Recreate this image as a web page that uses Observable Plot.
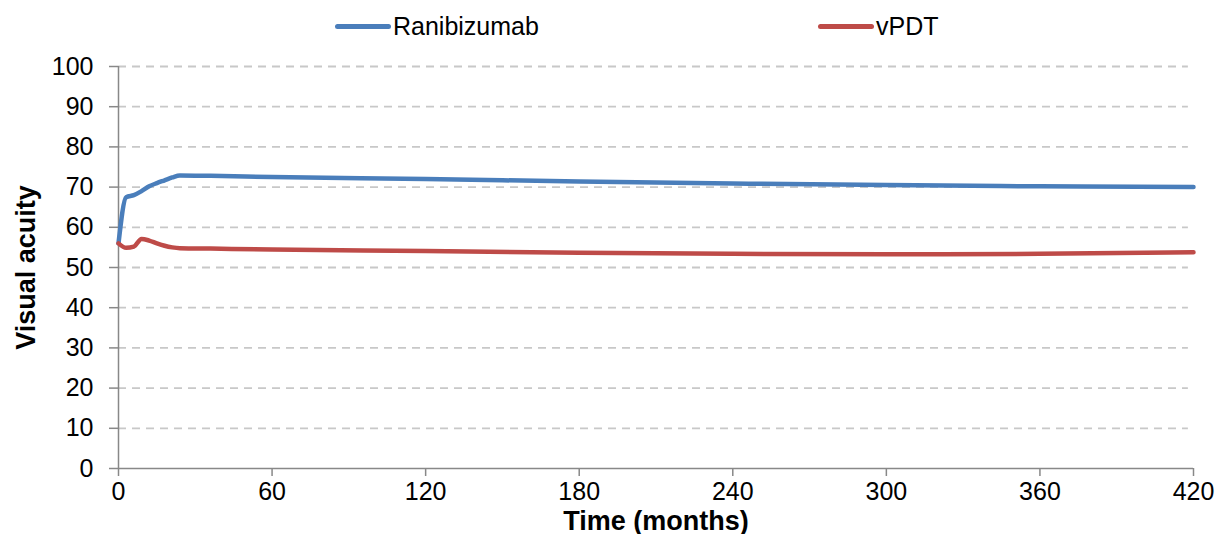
<!DOCTYPE html>
<html>
<head>
<meta charset="utf-8">
<script src="https://cdn.jsdelivr.net/npm/d3@7"></script>
<script src="https://cdn.jsdelivr.net/npm/@observablehq/plot@0.6"></script>
<style>
  body { margin: 0; background: #fff; font-family: "Liberation Sans", Arial, sans-serif; }
  #legend { position: relative; width: 1218px; height: 50px; font-size: 25px; color: #000; }
  .item { position: absolute; top: 12px; display: flex; align-items: center; }
  .sw { display: inline-block; width: 56px; height: 5px; border-radius: 3px; margin-right: 2px; }
  [aria-label="x-axis label"], [aria-label="y-axis label"] { font-weight: bold; font-size: 27px; }
</style>
</head>
<body>
<div id="legend"></div>
<div id="chart"></div>
<script>
const months = [0, 3, 6, 9, 12, 15, 18, 21, 24, 36, 60, 120, 180, 240, 300, 360, 420];
const ranibizumab = [56, 67.5, 68, 69, 70.2, 71, 71.7, 72.4, 72.9, 72.8, 72.5, 72, 71.4, 70.9, 70.5, 70.2, 70];
const vPDT = [56, 54.9, 55.2, 57.1, 56.7, 56, 55.4, 55, 54.8, 54.7, 54.5, 54.1, 53.7, 53.4, 53.3, 53.4, 53.8];
const seriesNames = ["Ranibizumab", "vPDT"];
const seriesColors = ["#4a7ebb", "#be4b48"];
const xTicks = [0, 60, 120, 180, 240, 300, 360, 420];
const yTicks = [0, 10, 20, 30, 40, 50, 60, 70, 80, 90, 100];

const data = [];
[ranibizumab, vPDT].forEach((vals, i) => {
  vals.forEach((v, j) => data.push({series: seriesNames[i], month: months[j], value: v}));
});

// legend
const legend = document.getElementById("legend");
const legendLeft = [335, 818];
seriesNames.forEach((n, i) => {
  const d = document.createElement("div");
  d.className = "item";
  d.style.left = legendLeft[i] + "px";
  d.innerHTML = `<span class="sw" style="background:${seriesColors[i]}"></span><span>${n}</span>`;
  legend.appendChild(d);
});

const chart = Plot.plot({
  width: 1218,
  height: 484,
  marginTop: 16,
  marginBottom: 66,
  marginLeft: 118,
  marginRight: 25,
  style: {fontFamily: "'Liberation Sans', Arial, sans-serif", fontSize: "25px", color: "#000", background: "#fff", overflow: "visible"},
  x: {domain: [0, 420]},
  y: {domain: [0, 100]},
  color: {domain: seriesNames, range: seriesColors},
  marks: [
    Plot.ruleY(yTicks.filter(d => d > 0), {stroke: "#c8c8c8", strokeWidth: 1.8, strokeDasharray: "8,6", x1: 0, x2: 418}),
    Plot.axisY(yTicks, {tickSize: 9, tickPadding: 16, stroke: "#888", strokeWidth: 1.5, fontSize: 25, label: "Visual acuity", labelAnchor: "center", labelOffset: 103, labelArrow: "none"}),
    Plot.axisX(xTicks, {tickSize: 8, tickPadding: 6, stroke: "#888", strokeWidth: 1.5, fontSize: 25, label: "Time (months)", labelAnchor: "center", labelOffset: 61, labelArrow: "none"}),
    Plot.ruleX([0], {stroke: "#888", strokeWidth: 1.5}),
    Plot.ruleY([0], {stroke: "#888", strokeWidth: 1.5}),
    Plot.line(data, {x: "month", y: "value", stroke: "series", z: "series", strokeWidth: 4.5, curve: "monotone-x"})
  ]
});
document.getElementById("chart").appendChild(chart);
</script>
</body>
</html>
